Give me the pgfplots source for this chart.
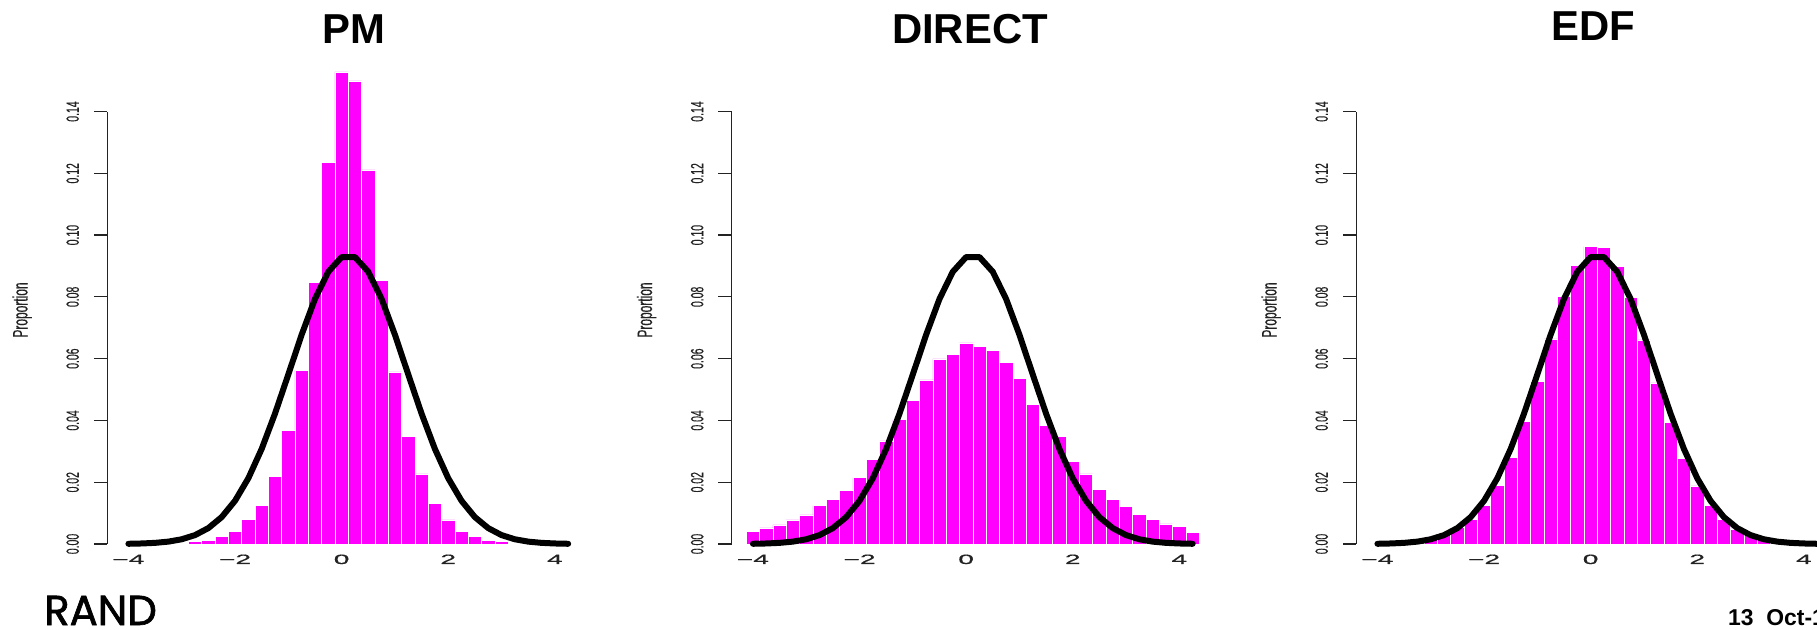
\documentclass[border=0pt]{standalone}
\usepackage{fontspec}
\setmainfont{Liberation Sans}
\newfontfamily\randfont[FakeBold=1.6]{Poppins}
\newfontfamily\axfont[FakeBold=0.4]{Liberation Sans}
\usepackage{graphicx}
\usepackage{pgfplots}
\pgfplotsset{compat=1.18}
\usepackage{pgfplotstable}

\definecolor{mag}{RGB}{255,0,255}
\definecolor{axgray}{RGB}{35,35,35}

\newcommand\xl[1]{\scalebox{2.1}[1]{#1}}
\newcommand\yl[1]{\scalebox{1}[1.7]{#1}}

\pgfplotstableread{
x y
-2.75 0.0008
-2.5 0.0012
-2.25 0.0024
-2.0 0.0040
-1.75 0.0080
-1.5 0.0126
-1.25 0.0220
-1.0 0.0367
-0.75 0.0563
-0.5 0.0846
-0.25 0.1236
0 0.1528
0.25 0.1499
0.5 0.1211
0.75 0.0853
1.0 0.0557
1.25 0.0348
1.5 0.0227
1.75 0.0132
2.0 0.0078
2.25 0.0040
2.5 0.0024
2.75 0.0011
3.0 0.0008
}\pmbars

\pgfplotstableread{
x y
-4.0 0.0040
-3.75 0.0052
-3.5 0.0062
-3.25 0.0078
-3.0 0.0094
-2.75 0.0124
-2.5 0.0145
-2.25 0.0173
-2.0 0.0215
-1.75 0.0275
-1.5 0.0334
-1.25 0.0403
-1.0 0.0464
-0.75 0.0531
-0.5 0.0599
-0.25 0.0615
0 0.0651
0.25 0.0639
0.5 0.0628
0.75 0.0588
1.0 0.0536
1.25 0.0453
1.5 0.0385
1.75 0.0348
2.0 0.0267
2.25 0.0227
2.5 0.0178
2.75 0.0145
3.0 0.0121
3.25 0.0095
3.5 0.0080
3.75 0.0065
4.0 0.0056
4.25 0.0037
}\directbars

\pgfplotstableread{
x y
-4.0 0.0001
-3.75 0.0002
-3.5 0.0004
-3.25 0.0008
-3.0 0.0016
-2.75 0.0030
-2.5 0.0054
-2.25 0.0080
-2.0 0.0126
-1.75 0.0189
-1.5 0.0281
-1.25 0.0396
-1.0 0.0526
-0.75 0.0664
-0.5 0.0801
-0.25 0.0903
0 0.0963
0.25 0.0960
0.5 0.0898
0.75 0.0799
1.0 0.0661
1.25 0.0522
1.5 0.0393
1.75 0.0277
2.0 0.0188
2.25 0.0126
2.5 0.0080
2.75 0.0049
3.0 0.0032
3.25 0.0016
3.5 0.0008
3.75 0.0004
4.0 0.0002
}\edfbars

\pgfplotstableread{
x y
-4.0 0.00007
-3.75 0.00017
-3.5 0.00037
-3.25 0.00077
-3.0 0.00153
-2.75 0.00288
-2.5 0.00515
-2.25 0.00871
-2.0 0.01398
-1.75 0.02129
-1.5 0.03078
-1.25 0.04220
-1.0 0.05489
-0.75 0.06775
-0.5 0.07933
-0.25 0.08813
0 0.09289
0.25 0.09289
0.5 0.08813
0.75 0.07933
1.0 0.06775
1.25 0.05489
1.5 0.04220
1.75 0.03078
2.0 0.02129
2.25 0.01398
2.5 0.00871
2.75 0.00515
3.0 0.00288
3.25 0.00153
3.5 0.00077
3.75 0.00037
4.0 0.00017
4.25 0.00007
}\normcurve

\pgfplotsset{
  panel/.style={
    x=53.3bp, y=3089bp,
    xmin=-4.4, xmax=4.4, ymin=0, ymax=0.14,
    clip=false,
    anchor=south west,
    axis y line*=left, axis x line*=bottom,
    x axis line style={draw=none},
    y axis line style={line width=1.2bp, color=axgray},
    xtick={-4,-2,0,2,4},
    xticklabels={\xl{−4},\xl{−2},\xl{0},\xl{2},\xl{4}},
    xtick style={draw=none},
    ytick={0,0.02,0.04,0.06,0.08,0.1,0.12,0.14},
    yticklabels={\yl{0.00},\yl{0.02},\yl{0.04},\yl{0.06},\yl{0.08},\yl{0.10},\yl{0.12},\yl{0.14}},
    ytick style={line width=1.2bp, color=axgray},
    ytick align=outside, xtick align=inside,
    major tick length=13.3bp,
    yticklabel shift=15bp,
    yticklabel style={font=\axfont\fontsize{10.5}{11}\selectfont, text=axgray, rotate=90, anchor=base},
    xticklabel style={font=\axfont\fontsize{13.5}{14}\selectfont, text=axgray, anchor=base, yshift=-20bp},
  },
  bars/.style={ybar, bar width=0.25, fill=mag, draw=white, line width=0.5bp},
  curve/.style={black, line width=6bp, line join=round, line cap=round},
}

\begin{document}
\begin{tikzpicture}
\useasboundingbox (0,0) rectangle (1817bp,630bp);
\clip (0,0) rectangle (1817bp,630bp);

\begin{axis}[panel, at={(107.1bp,86bp)}]
\addplot[bars] table[x=x,y=y] {\pmbars};
\addplot[curve] table[x=x,y=y] {\normcurve};
\end{axis}

\begin{axis}[panel, at={(731.6bp,86bp)}]
\addplot[bars] table[x=x,y=y] {\directbars};
\addplot[curve] table[x=x,y=y] {\normcurve};
\end{axis}

\begin{axis}[panel, at={(1356.1bp,86bp)}]
\addplot[bars] table[x=x,y=y] {\edfbars};
\addplot[curve] table[x=x,y=y] {\normcurve};
\end{axis}

\foreach \px in {22.1,646.6,1271.1}{
  \node[rotate=90, font=\axfont\fontsize{12}{12}\selectfont, text=axgray] at (\px bp,320bp) {\scalebox{1}[1.75]{Proportion}};
}

\node[anchor=base, inner sep=0, font=\bfseries\fontsize{42}{42}\selectfont] at (354bp,586.7bp) {PM};
\node[anchor=base, inner sep=0, font=\bfseries\fontsize{42}{42}\selectfont] at (970bp,586.7bp) {DIRECT};
\node[anchor=base, inner sep=0, font=\bfseries\fontsize{42}{42}\selectfont] at (1593bp,589.3bp) {EDF};

\node[anchor=base west, inner sep=0, font=\randfont\fontsize{42}{42}\selectfont] at (44bp,5bp) {RAND};
\node[anchor=base west, inner sep=0, font=\bfseries\fontsize{23}{23}\selectfont] at (1728bp,4.5bp) {13\ \ Oct-10};
\end{tikzpicture}
\end{document}
